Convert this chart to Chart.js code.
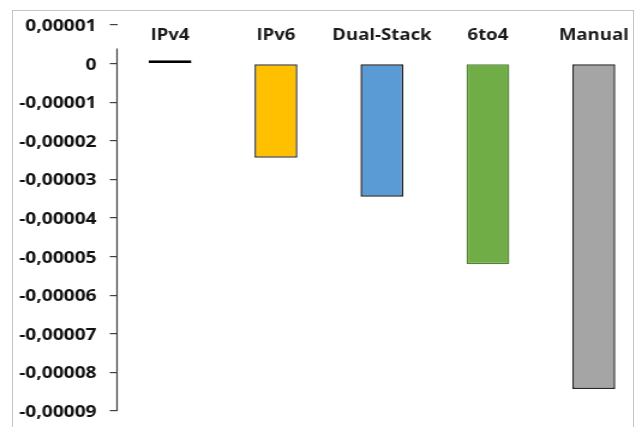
<!DOCTYPE html>
<html>
<head>
<meta charset="utf-8">
<script src="https://cdn.jsdelivr.net/npm/chart.js@4"></script>
<style>
  html, body { margin: 0; padding: 0; background: #fff; overflow: hidden; width: 635px; height: 427px; }
  #wrap { position: absolute; left: 0; top: 0; transform: scaleX(1.2); transform-origin: 0 0; }
  #frame { position: absolute; left: 12px; top: 10px; width: 622px; height: 440px; border: 1.5px solid #c4c4c4; box-sizing: border-box; pointer-events: none; }
</style>
</head>
<body>
<div id="wrap"><canvas id="c" width="560" height="427"></canvas></div>
<div id="frame"></div>
<script>
// Categories and values
const categories = ['IPv4', 'IPv6', 'Dual-Stack', '6to4', 'Manual'];
const values = [0.0000009, -0.0000244, -0.0000345, -0.0000520, -0.0000843];
const fillColors = ['#000000', '#FFC000', '#5B9BD5', '#70AD47', '#A5A5A5'];
const edgeColors = ['#000000', '#3a3a3a', '#1e1e1e', '#548235', '#262626'];
// Value axis
const axisMax = 0.00001;
const axisMin = -0.00009;
const axisStep = 0.00001;

const FONT = '"Open Sans", "Liberation Sans", sans-serif';

function fmt(v) {
  if (Math.abs(v) < 1e-12) return '0';
  return v.toFixed(5).replace('.', ',');
}

// Category names along the top of the plot, and the value-axis line
const topLabels = {
  id: 'topLabels',
  afterDraw(chart) {
    const ctx = chart.ctx;
    const xs = chart.scales.x, ys = chart.scales.y;
    ctx.save();
    // axis line
    ctx.strokeStyle = '#404040';
    ctx.lineWidth = 1.2;
    ctx.beginPath();
    ctx.moveTo(ys.right, ys.getPixelForValue(0) - 15);
    ctx.lineTo(ys.right, ys.bottom);
    ctx.stroke();
    // category names
    ctx.fillStyle = '#1a1a1a';
    ctx.font = '700 15.5px ' + FONT;
    ctx.textAlign = 'center';
    ctx.textBaseline = 'middle';
    chart.data.labels.forEach((lab, i) => {
      ctx.fillText(lab, xs.getPixelForValue(i), ys.top + 11);
    });
    ctx.restore();
  }
};

new Chart(document.getElementById('c'), {
  type: 'bar',
  data: {
    labels: categories,
    datasets: [{
      data: values,
      backgroundColor: fillColors,
      borderColor: edgeColors,
      borderWidth: 1.5,
      borderSkipped: false,
      categoryPercentage: 1,
      barPercentage: 0.405
    }]
  },
  options: {
    responsive: false,
    animation: false,
    layout: { padding: { left: 0, right: 21, top: 25, bottom: 16 } },
    plugins: { legend: { display: false }, tooltip: { enabled: false } },
    scales: {
      x: { display: false },
      y: {
        min: axisMin,
        max: axisMax,
        afterFit(scale) {
          scale.width = 97.5;
          // the layout padding already leaves room for the end labels
          scale.paddingTop = 0;
          scale.paddingBottom = 0;
        },
        border: { display: false },
        grid: { drawOnChartArea: false, drawTicks: true, tickLength: 6, color: '#404040', lineWidth: 1.2 },
        ticks: {
          stepSize: axisStep,
          padding: 11,
          labelOffset: 1.5,
          color: '#111111',
          font: { family: FONT, size: 16, weight: '700' },
          callback: (v) => fmt(v)
        }
      }
    }
  },
  plugins: [topLabels]
});
</script>
</body>
</html>
